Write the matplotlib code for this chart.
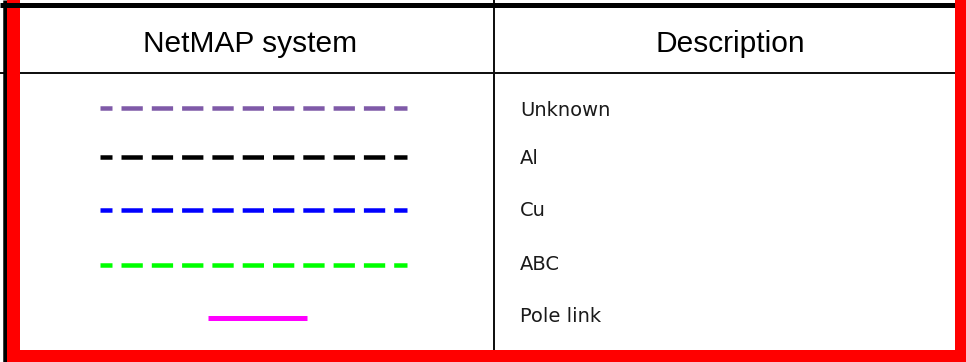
import matplotlib.pyplot as plt

plt.rcParams['lines.scale_dashes'] = False
plt.rcParams['lines.solid_capstyle'] = 'butt'
plt.rcParams['lines.dash_capstyle'] = 'butt'

# table content
headers = ['NetMAP system', 'Description']
descriptions = ['Unknown', 'Al', 'Cu', 'ABC', 'Pole link']
line_colors = ['#7f5aa8', '#000000', '#0000ff', '#00ff00', '#ff00ff']
dashed = [True, True, True, True, False]

# layout (pixels)
W, H = 966, 362
px = 0.72  # points per pixel at dpi 100
line_y = [107.5, 156.5, 209.5, 264.5, 318]
text_y = [111, 159, 211, 264, 316]
col_div = 494

fig = plt.figure(figsize=(W / 100, H / 100), dpi=100)
ax = fig.add_axes([0, 0, 1, 1])
ax.set_xlim(0, W)
ax.set_ylim(H, 0)
ax.axis('off')

# grid lines
ax.plot([0, W], [73, 73], color='#111111', lw=2 * px, zorder=1)
ax.plot([col_div, col_div], [0, H], color='#111111', lw=2 * px, zorder=1)
ax.plot([5, 5], [0, H], color='black', lw=4.5 * px, zorder=1)

# red frame
ax.fill_between([7, 20], 0, H, color='#ff0000', lw=0, zorder=2)
ax.fill_between([955, W], 0, H, color='#ff0000', lw=0, zorder=4)
ax.fill_between([7, W], 349.5, H, color='#ff0000', lw=0, zorder=2)

# top black rule
ax.plot([0, 955], [4.5, 4.5], color='black', lw=5 * px, zorder=3)

# headers
ax.text(250, 44, headers[0], ha='center', va='center',
        fontsize=21.5, family='Liberation Sans', color='black')
ax.text(730, 44, headers[1], ha='center', va='center',
        fontsize=21.5, family='Liberation Sans', color='black')

# legend rows
for y, ty, c, d, label in zip(line_y, text_y, line_colors, dashed, descriptions):
    if d:
        ax.plot([100, 406.5], [y, y], color=c, lw=4.5 * px,
                linestyle=(9.3 * px, (21.3 * px, 9 * px)), zorder=3)
    else:
        ax.plot([208, 307], [y, y], color=c, lw=5 * px, zorder=3)
    ax.text(520, ty, label, ha='left', va='center', fontsize=14,
            family='DejaVu Sans', color='#1a1a1a')

fig.savefig('out.png', dpi=100)
